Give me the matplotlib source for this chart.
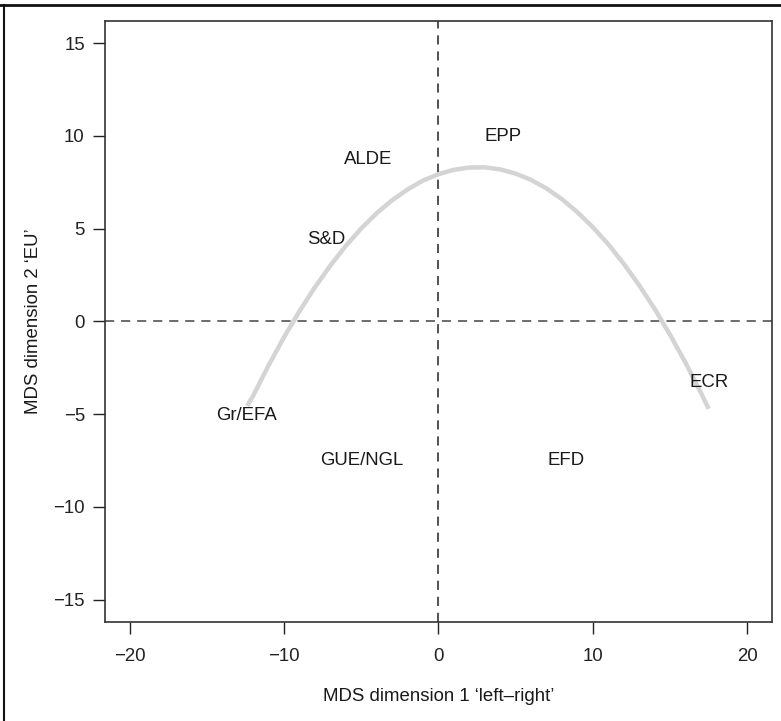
import matplotlib
matplotlib.use("Agg")
import matplotlib.pyplot as plt
from matplotlib.lines import Line2D

plt.rcParams['font.family'] = ['Liberation Sans', 'DejaVu Sans']

# party positions (label centres)
parties = ['Gr/EFA', 'GUE/NGL', 'S&D', 'ALDE', 'EPP', 'EFD', 'ECR']
dim1 = [-12.45, -5.0, -7.3, -4.55, 4.15, 8.25, 17.55]
dim2 = [-5.05, -7.5, 4.4, 8.75, 9.95, -7.5, -3.3]

# fitted curve
curve_x = [-12.4, -12, -11, -10, -9, -8, -7, -6, -5, -4, -3, -2, -1, 0,
           1, 2, 3, 4, 5, 6, 7, 8, 9, 10, 11, 12, 13, 14, 15, 16, 17, 17.5]
curve_y = [-4.55, -4.0, -2.36, -0.84, 0.56, 1.85, 3.02, 4.08, 5.02, 5.84,
           6.54, 7.12, 7.60, 7.94, 8.18, 8.30, 8.31, 8.20, 7.97, 7.63,
           7.17, 6.59, 5.89, 5.08, 4.16, 3.11, 1.95, 0.68, -0.72, -2.23,
           -3.85, -4.71]

xticks = [-20, -10, 0, 10, 20]
yticks = [-15, -10, -5, 0, 5, 10, 15]

fig = plt.figure(figsize=(7.81, 7.21), dpi=100)
ax = fig.add_axes([0.1344, 0.1373, 0.9885 - 0.1344, 0.9709 - 0.1373])

ax.set_xlim(-21.6, 21.6)
ax.set_ylim(-16.2, 16.2)

# reference lines through the origin
ax.axvline(0, color='#222222', lw=1.1, ls=(0, (6, 4.5)), zorder=1)
ax.axhline(0, color='#444444', lw=1.1, ls=(0, (6, 4.5)), zorder=1)

ax.plot(curve_x, curve_y, color='#d4d4d4', lw=3.2,
        solid_capstyle='butt', solid_joinstyle='round', zorder=2)

for name, x, y in zip(parties, dim1, dim2):
    ax.text(x, y, name, ha='center', va='center', fontsize=13.4,
            color='#1a1a1a', zorder=3)

ax.set_xticks(xticks)
ax.set_yticks(yticks)
ax.tick_params(direction='out', length=8.5, width=1, colors='#222222',
               labelsize=13.4)
ax.tick_params(axis='y', pad=6)
ax.tick_params(axis='x', pad=10)
for s in ax.spines.values():
    s.set_color('#333333')
    s.set_linewidth(1.2)

ax.set_xlabel('MDS dimension 1 \u2018left\u2013right\u2019', fontsize=13.4,
              color='#1a1a1a', labelpad=17)
ax.set_ylabel('MDS dimension 2 \u2018EU\u2019', fontsize=13.4,
              color='#1a1a1a', labelpad=8)

# outer frame (top and left only)
fig.add_artist(Line2D([0, 1], [1 - 5 / 721, 1 - 5 / 721],
                      transform=fig.transFigure, color='#111111', lw=2))
fig.add_artist(Line2D([4 / 781, 4 / 781], [0, 1 - 5 / 721],
                      transform=fig.transFigure, color='#111111', lw=1.5))

fig.savefig('out.png', dpi=100)
